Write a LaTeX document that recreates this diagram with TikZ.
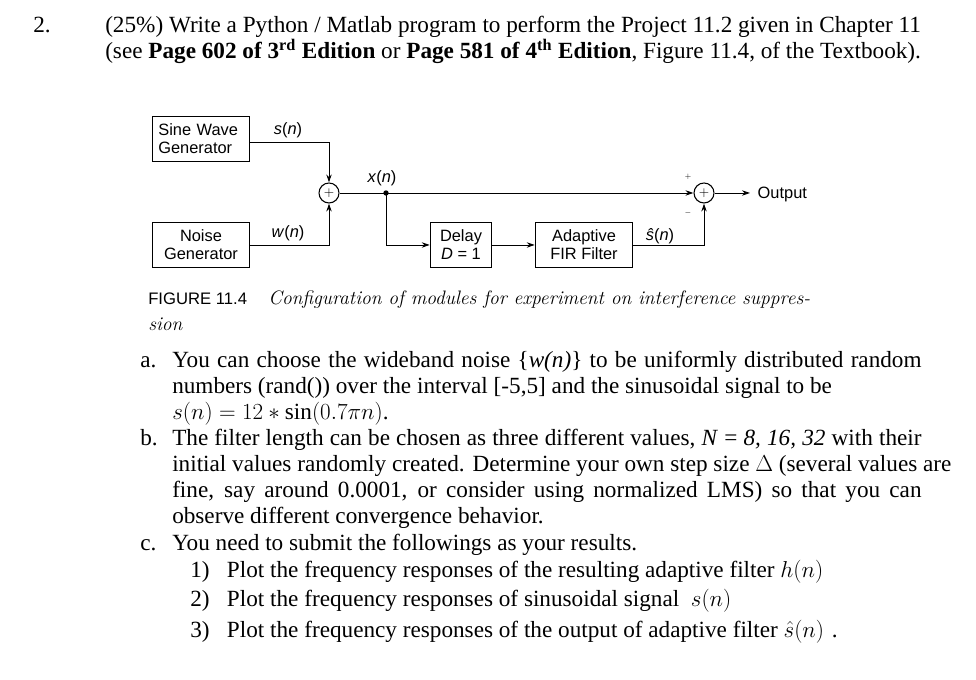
\documentclass[tikz,border=0pt]{standalone}
\usepackage{fontspec}
\setmainfont{Liberation Serif}
\setsansfont{Liberation Sans}
\newfontfamily\lmit{Latin Modern Roman}
\usetikzlibrary{arrows.meta}
\newcommand{\sv}[1]{\textit{#1}}
\begin{document}
\begin{tikzpicture}[x=0.75pt,y=-0.75pt,
  blk/.style={draw,line width=0.9pt,font=\sffamily\fontsize{12.3}{13.5}\selectfont,align=left,inner sep=3pt},
  sumc/.style={draw,circle,line width=0.8pt,minimum size=15pt,inner sep=0pt},
  sig/.style={font=\sffamily\fontsize{12.3}{13}\selectfont},
  ln/.style={line width=0.7pt},
  ar/.style={line width=0.7pt,-{Stealth[length=6pt,width=4pt]}},
  tx/.style={anchor=base west,inner sep=0pt,font=\fontsize{17.4}{20}\selectfont}]
\fill[white] (0,0) rectangle (976,680);
\useasboundingbox (0,0) rectangle (976,680);
% header
\node[tx] (n2) at (33,33) {2.};
\node[tx] (h1) at (105,33) {(25\%) Write a Python / Matlab program to perform the Project 11.2 given in Chapter 11};
\node[tx] (h2) at (105,59) {(see \textbf{Page 602 of 3\textsuperscript{rd} Edition} or \textbf{Page 581 of 4\textsuperscript{th} Edition}, Figure 11.4, of the Textbook).};
% diagram
\node[blk,minimum width=73pt,minimum height=34pt,text width=64pt] (sine) at (201,139) {Sine Wave\\Generator};
\node[blk,minimum width=73pt,minimum height=34pt,align=center] (noise) at (201,245) {Noise\\Generator};
\node[sumc] (s1) at (329,193) {$+$};
\node[sumc] (s2) at (704,193) {$+$};
\node[blk,minimum width=46pt,minimum height=34pt,align=center] (delay) at (461,245) {Delay\\\sv{D} = 1};
\node[blk,minimum width=73pt,minimum height=34pt,align=center] (fir) at (584,245) {Adaptive\\FIR Filter};
\coordinate (j) at (386,193);
\fill (j) circle (2pt);
\draw[ar] (sine.east|-0,142) -| (s1.north);
\draw[ar] (noise.east) -| (s1.south);
\draw[ln] (s1.east) -- (j);
\draw[ar] (j) -- (s2.west);
\draw[ar] (j) |- (delay.west);
\draw[ar] (delay.east) -- (fir.west);
\draw[ar] (fir.east) -| (s2.south);
\coordinate (o) at (750,193);
\draw[ar] (s2.east) -- (o);
\node[sig,anchor=west] (out) at (753,194) {Output};
\node[sig] (ls) at (288,130) {\sv{s}(\sv{n})};
\node[sig] (lw) at (288,233) {\sv{w}(\sv{n})};
\node[sig] (lx) at (382,178) {\sv{x}(\sv{n})};
\node[sig] (lsh) at (660,236) {\sv{ŝ}(\sv{n})};
\node[font=\tiny] (pl) at (688,177) {$+$};
\node[font=\tiny] (mi) at (688,213) {$-$};
\node[anchor=base west,inner sep=0pt] (cap) at (148,305) {\sffamily\fontsize{12.5}{14}\selectfont FIGURE 11.4\hspace{16pt}\lmit\itshape\fontsize{14.6}{16}\selectfont Configuration of modules for experiment on interference suppres-};
\node[anchor=base west,inner sep=0pt] (cap2) at (148,331) {\lmit\itshape\fontsize{14.6}{16}\selectfont sion};
% text
\node[tx] (la) at (140,368) {a.};
\node[tx] (a1) at (172,368) {\makebox[562pt][s]{You can choose the wideband noise \{\textit{w(n)}\} to be uniformly distributed random}};
\node[tx] (a2) at (172,394) {numbers (rand()) over the interval [-5,5] and the sinusoidal signal to be};
\node[tx] (a3) at (172,420) {$s(n) = 12 * \sin(0.7\pi n)$.};
\node[tx] (lb) at (140,446) {b.};
\node[tx] (b1) at (172,446) {\makebox[562pt][s]{The filter length can be chosen as three different values, \textit{N} = \textit{8, 16, 32} with their}};
\node[tx] (b2) at (172,472) {initial values randomly created. Determine your own step size $\Delta$ (several values are};
\node[tx] (b3) at (172,498) {\makebox[562pt][s]{fine, say around 0.0001, or consider using normalized LMS) so that you can}};
\node[tx] (b4) at (172,524) {observe different convergence behavior.};
\node[tx] (lc) at (140,551) {c.};
\node[tx] (c0) at (172,551) {You need to submit the followings as your results.};
\node[tx] (c1) at (190,578) {1)\ \ \ Plot the frequency responses of the resulting adaptive filter $h(n)$};
\node[tx] (c2) at (190,607) {2)\ \ \ Plot the frequency responses of sinusoidal signal \ $s(n)$};
\node[tx] (c3) at (190,638) {3)\ \ \ Plot the frequency responses of the output of adaptive filter $\hat{s}(n)$\,\,.};
\end{tikzpicture}
\end{document}
